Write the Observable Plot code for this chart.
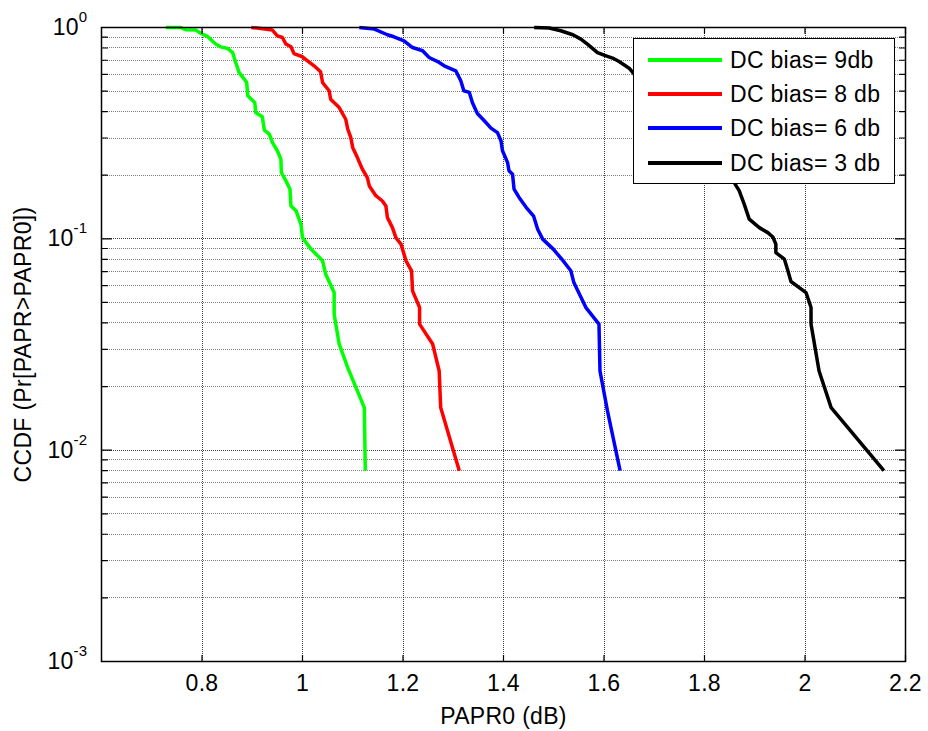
<!DOCTYPE html>
<html>
<head>
<meta charset="utf-8">
<script src="https://cdn.jsdelivr.net/npm/d3@7"></script>
<script src="https://cdn.jsdelivr.net/npm/@observablehq/plot@0.6"></script>
<style>
  body { margin: 0; background: #fff; }
  #wrap { position: relative; width: 928px; height: 731px; font-family: "Liberation Sans", Arial, sans-serif; }
  #legend { position: absolute; left: 633px; top: 38px; width: 262px; height: 146px; border: 1.5px solid #000; background: #fff; box-sizing: border-box; }
  .row { position: absolute; left: 0; height: 30px; display: flex; align-items: center; }
  .swatch { display: inline-block; margin-left: 14px; width: 74px; height: 4px; }
  .lab { margin-left: 8px; font-size: 23px; letter-spacing: 0.3px; color: #000; white-space: nowrap; }
</style>
</head>
<body>
<div id="wrap"></div>
<script>
// ---- data ----
const seriesNames = ["DC bias= 9db", "DC bias= 8 db", "DC bias= 6 db", "DC bias= 3 db"];
const seriesColors = ["#00ff00", "#ff0000", "#0000ff", "#000000"];

const papr9 = [0.728,0.758,0.768,0.788,0.798,0.811,0.827,0.837,0.851,0.861,0.867,0.874,0.884,0.889,0.891,0.905,0.907,0.920,0.924,0.934,0.940,0.950,0.957,0.958,0.967,0.975,0.977,0.987,0.997,1.000,1.017,1.040,1.046,1.063,1.063,1.073,1.090,1.123,1.125];
const ccdf9 = [1,1,0.975,0.972,0.937,0.907,0.835,0.810,0.796,0.761,0.683,0.612,0.570,0.549,0.475,0.442,0.396,0.378,0.327,0.313,0.286,0.261,0.238,0.206,0.188,0.172,0.143,0.136,0.117,0.101,0.0894,0.0787,0.0681,0.0557,0.0440,0.0318,0.0246,0.0159,0.008];

const papr8 = [0.898,0.910,0.940,0.950,0.960,0.967,0.977,0.983,1.000,1.010,1.023,1.036,1.040,1.053,1.056,1.073,1.086,1.090,1.096,1.100,1.109,1.119,1.129,1.133,1.146,1.159,1.166,1.169,1.179,1.186,1.196,1.206,1.217,1.219,1.233,1.233,1.259,1.272,1.275,1.312];
const ccdf8 = [1,0.994,0.972,0.913,0.897,0.835,0.810,0.753,0.727,0.696,0.659,0.617,0.549,0.502,0.458,0.418,0.368,0.331,0.302,0.270,0.243,0.214,0.195,0.178,0.160,0.151,0.143,0.126,0.113,0.101,0.0944,0.0787,0.0706,0.0567,0.0473,0.0395,0.0318,0.0237,0.0159,0.008];

const papr6 = [1.113,1.143,1.169,1.182,1.202,1.219,1.239,1.252,1.269,1.282,1.305,1.315,1.321,1.332,1.338,1.348,1.365,1.375,1.388,1.395,1.398,1.408,1.411,1.418,1.421,1.431,1.445,1.460,1.468,1.478,1.499,1.516,1.534,1.540,1.564,1.590,1.592,1.607,1.632];
const ccdf6 = [1,0.983,0.924,0.904,0.865,0.804,0.776,0.721,0.690,0.659,0.624,0.560,0.502,0.493,0.442,0.392,0.355,0.334,0.318,0.291,0.261,0.230,0.210,0.202,0.172,0.157,0.141,0.128,0.111,0.0997,0.0894,0.0801,0.0706,0.0621,0.0473,0.0395,0.0237,0.0153,0.008];

const papr3 = [1.461,1.491,1.514,1.538,1.554,1.567,1.587,1.600,1.617,1.630,1.650,1.660,1.693,1.737,1.784,1.823,1.849,1.863,1.869,1.879,1.889,1.909,1.926,1.936,1.942,1.942,1.959,1.966,1.972,2.002,2.012,2.012,2.028,2.052,2.157];
const ccdf3 = [1,0.994,0.965,0.924,0.881,0.835,0.761,0.740,0.717,0.690,0.642,0.602,0.530,0.426,0.324,0.247,0.205,0.178,0.169,0.146,0.124,0.113,0.107,0.102,0.0944,0.0861,0.0801,0.0706,0.0628,0.0557,0.0473,0.0395,0.0237,0.0159,0.008];

const xTicks = [0.8, 1, 1.2, 1.4, 1.6, 1.8, 2, 2.2];
const xDomain = [0.6, 2.2];
const yMajor = [1, 0.1, 0.01, 0.001];
const yMinor = [0.002,0.003,0.004,0.005,0.006,0.007,0.008,0.009,
                0.02,0.03,0.04,0.05,0.06,0.07,0.08,0.09,
                0.2,0.3,0.4,0.5,0.6,0.7,0.8,0.9];
const xLabel = "PAPR0 (dB)";
const yLabel = "CCDF (Pr[PAPR>PAPR0])";

// ---- build table ----
const paprs = [papr9, papr8, papr6, papr3];
const ccdfs = [ccdf9, ccdf8, ccdf6, ccdf3];
const rows = [];
seriesNames.forEach((s, i) => paprs[i].forEach((p, j) => rows.push({series: s, papr: p, ccdf: ccdfs[i][j]})));

const tickShape = {draw(context, l) { context.moveTo(0, 0); context.lineTo(0, -l); }};
const tickOpts = {stroke: "#000", strokeWidth: 1.2, anchor: "start", shape: tickShape};

const chart = Plot.plot({
  width: 928,
  height: 731,
  marginLeft: 101,
  marginRight: 23,
  marginTop: 27,
  marginBottom: 70,
  style: "font-family: 'Liberation Sans', Arial, sans-serif; font-size: 23px; letter-spacing: 0.3px; color: #000; background: #fff;",
  x: {domain: xDomain},
  y: {type: "log", domain: [0.001, 1]},
  color: {domain: seriesNames, range: seriesColors},
  marks: [
    Plot.ruleY(yMinor, {stroke: "#000", strokeOpacity: 0.5, strokeDasharray: "1,1", shapeRendering: "crispEdges"}),
    Plot.ruleY(yMajor, {stroke: "#000", strokeOpacity: 0.75, strokeDasharray: "1,1", shapeRendering: "crispEdges"}),
    Plot.ruleX(xTicks, {stroke: "#000", strokeOpacity: 0.75, strokeDasharray: "1,1", shapeRendering: "crispEdges"}),
    Plot.line(rows, {x: "papr", y: "ccdf", stroke: "series", strokeWidth: 3.5, strokeLinejoin: "round", strokeLinecap: "butt"}),
    // inward tick marks
    Plot.vector(xTicks, {x: d => d, frameAnchor: "bottom", rotate: 0, length: 6, ...tickOpts}),
    Plot.vector(xTicks, {x: d => d, frameAnchor: "top", rotate: 180, length: 6, ...tickOpts}),
    Plot.vector(yMajor, {y: d => d, frameAnchor: "left", rotate: 90, length: 10, ...tickOpts}),
    Plot.vector(yMinor, {y: d => d, frameAnchor: "left", rotate: 90, length: 6, ...tickOpts}),
    Plot.vector(yMajor, {y: d => d, frameAnchor: "right", rotate: -90, length: 10, ...tickOpts}),
    Plot.vector(yMinor, {y: d => d, frameAnchor: "right", rotate: -90, length: 6, ...tickOpts}),
    Plot.frame({stroke: "#000", strokeWidth: 1.5}),
    Plot.axisX({ticks: xTicks, tickSize: 0, tickPadding: 13, fontSize: 23, tickFormat: d => String(d), label: xLabel, labelAnchor: "center", labelArrow: "none", labelOffset: 62}),
    Plot.axisY({ticks: yMajor, tickSize: 0, tickPadding: 14, fontSize: 23, tickFormat: d => "10^" + Math.round(Math.log10(d)), label: yLabel, labelAnchor: "center", labelArrow: "none", labelOffset: 87})
  ]
});

// render superscripts for the log tick labels
d3.select(chart).selectAll('g[aria-label="y-axis tick label"] text').each(function () {
  const t = this.textContent;
  if (!t.includes("^")) return;
  const [base, exp] = t.split("^");
  const sel = d3.select(this);
  sel.text(base);
  sel.append("tspan").attr("dy", "-13").attr("font-size", "15px").text(exp);
});

const wrap = document.getElementById("wrap");
wrap.appendChild(chart);

// legend
const legend = document.createElement("div");
legend.id = "legend";
const rowCenters = [21, 55, 89, 124];
seriesNames.forEach((s, i) => {
  const r = document.createElement("div");
  r.className = "row";
  r.style.top = (rowCenters[i] - 15) + "px";
  const sw = document.createElement("span");
  sw.className = "swatch";
  sw.style.background = seriesColors[i];
  const lb = document.createElement("span");
  lb.className = "lab";
  lb.textContent = s;
  r.appendChild(sw);
  r.appendChild(lb);
  legend.appendChild(r);
});
wrap.appendChild(legend);
</script>
</body>
</html>
